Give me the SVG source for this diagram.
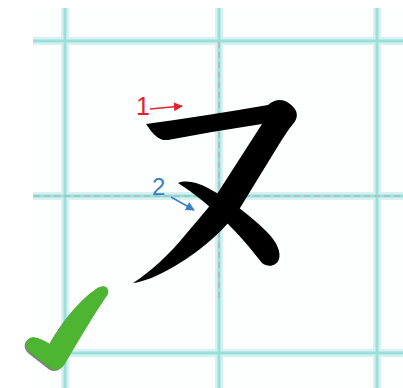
<svg xmlns="http://www.w3.org/2000/svg" width="403" height="388" viewBox="0 0 403 388">
<style>
.glow{stroke:#d5f2f0;stroke-width:8;fill:none}
.core{stroke:#9bdfdc;stroke-width:3;fill:none}
.dash{stroke:#aebaba;stroke-width:1.6;stroke-dasharray:6 4;fill:none}
.ink{fill:#000}
</style>
<defs>
<marker id="arR" viewBox="0 0 10 10" refX="9" refY="5" markerWidth="6" markerHeight="6" orient="auto"><path d="M0,0 L10,5 L0,10 Z" fill="#e3232b"/></marker>
<marker id="arB" viewBox="0 0 10 10" refX="9" refY="5" markerWidth="6" markerHeight="6" orient="auto"><path d="M0,0 L10,5 L0,10 Z" fill="#3a7fc6"/></marker>
</defs>
<rect width="403" height="388" fill="#fff"/>
<rect x="33" y="8" width="370" height="380" fill="#fdfefe"/>
<g id="grid">
<path class="glow" d="M65,8V388M219,8V388M377,8V388M33,41H403M33,196H403M33,353H403"/>
<path class="core" d="M65,8V388M219,8V388M377,8V388M33,41H403M33,196H403M33,353H403"/>
<path class="dash" d="M219,42V302M34,196H403"/>
</g>
<g id="kana">
<path class="ink" d="M146,124 Q205,116 268,105 C275,99 283,98 290,104 C298,110 299,117 293,124 C288,130 283,138 278,146 L240,208 C226,228 205,248 175,266 C158,276 143,282 133,283 C150,272 168,256 186,234 L208,208 L262,124 Q215,131 168,140 C160,141 154,136 146,124 Z"/>
<path class="ink" d="M178,183 C186,180 197,182 208,188 C228,199 248,213 267,232 C277,242 281,252 279,259 C277,266 268,268 262,263 C254,253 244,240 230,226 C213,208 195,194 178,183 Z"/>
</g>
<g id="label1">
<text x="136" y="115" font-family="Liberation Sans, Arial, sans-serif" font-size="25" fill="#e3232b">1</text>
<path d="M150,109 L182,106" stroke="#e3232b" stroke-width="1.5" fill="none" marker-end="url(#arR)"/>
</g>
<g id="label2">
<text x="152" y="195" font-family="Liberation Sans, Arial, sans-serif" font-size="24" fill="#3a7fc6">2</text>
<path d="M171,197 L194,210" stroke="#3a7fc6" stroke-width="1.5" fill="none" marker-end="url(#arB)"/>
</g>
<g id="check">
<path transform="translate(-1.5,1.5)" fill="#1e3a14" opacity="0.6" d="M50,344 C62,322 80,300 96,289 C102,284 110,286 108,294 C95,313 80,338 66,362 C62,370 54,372 48,366 L30,352 C24,347 25,338 33,337 C40,338 45,341 50,344 Z"/>
<path fill="#4db531" d="M50,344 C62,322 80,300 96,289 C102,284 110,286 108,294 C95,313 80,338 66,362 C62,370 54,372 48,366 L30,352 C24,347 25,338 33,337 C40,338 45,341 50,344 Z"/>
</g>
</svg>
